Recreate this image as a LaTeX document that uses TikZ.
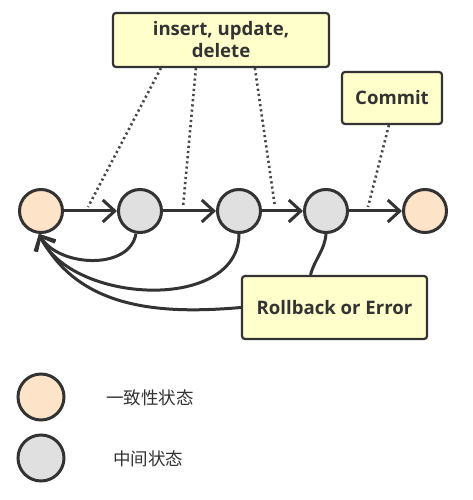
\documentclass[tikz,border=0pt]{standalone}
\usepackage{fontspec}
\setmainfont{Open Sans}
\newfontfamily\cjkfont{Noto Sans CJK SC}
\usetikzlibrary{arrows.meta}
\definecolor{ink}{HTML}{333333}
\definecolor{peach}{HTML}{FDE3C8}
\definecolor{midgray}{HTML}{E0E0E0}
\definecolor{notefill}{HTML}{FFFFCC}
\begin{document}
\begin{tikzpicture}[x=1pt,y=1pt]
\tikzstyle{state}=[draw=ink,shape=circle,line width=3pt,minimum size=43pt,inner sep=0pt]
\tikzstyle{stable}=[state,fill=peach]
\tikzstyle{middle}=[state,fill=midgray]
\tikzstyle{note}=[draw=ink,fill=notefill,line width=2.2pt,rounded corners=3pt,inner sep=0pt,font=\bfseries\fontsize{18.6}{22}\selectfont,text=ink,align=center]
\tikzstyle{fwd}=[draw=ink,line width=3pt,-{Straight Barb[length=12pt,width=22pt]}]
\tikzstyle{back}=[draw=ink,line width=3pt,-{Straight Barb[length=12pt,width=22pt]}]
\tikzstyle{hint}=[draw=ink!90,line width=2.6pt,dash pattern=on 2.2pt off 3pt]
\tikzstyle{legend}=[text=ink,font=\cjkfont\fontsize{17.5}{20}\selectfont]
\useasboundingbox (0,0) rectangle (473,500);
% states
\node[stable] at (41,289) (s0) {};
\node[middle] at (140,289) (s1) {};
\node[middle] at (239,289) (s2) {};
\node[middle] at (326,289) (s3) {};
\node[stable] at (425,289) (s4) {};
% notes
\node[note,minimum width=216pt,minimum height=54pt] at (221,460) (ops) {insert, update,\\delete};
\node[note,minimum width=100pt,minimum height=52pt] at (392,402) (commit) {Commit};
\node[note,minimum width=185pt,minimum height=63pt] at (334.5,192.5) (rollback) {Rollback or Error};
% forward steps
\draw[fwd] (s0) -- (s1);
\draw[fwd] (s1) -- (s2);
\draw[fwd] (s2) -- (s3);
\draw[fwd] (s3) -- (s4);
% dotted hints
\coordinate (h1) at (88,293);
\coordinate (h2) at (183,293);
\coordinate (h3) at (275,293);
\coordinate (h4) at (368,293);
\draw[hint] ([xshift=49pt]ops.south west) -- (h1);
\draw[hint] ([xshift=84pt]ops.south west) -- (h2);
\draw[hint] ([xshift=143pt]ops.south west) -- (h3);
\draw[hint] ([xshift=48pt]commit.south west) -- (h4);
% rollback paths
\draw[back] (s1.260) to[out=-100,in=-60] (s0.-95);
\draw[back] (s2.south) to[out=-90,in=-65] (s0.-95);
\draw[draw=ink,line width=3pt] (s3.south) to[out=-95,in=75] ([xshift=-24pt]rollback.north);
\draw[back] (rollback.west) to[out=-175,in=-62] (s0.-95);
% legend
\node[stable,minimum size=46pt] at (41,103) (k0) {};
\node[middle,minimum size=46pt] at (41,42) (k1) {};
\node[legend] at (150,102) (t0) {一致性状态};
\node[legend] at (148,41) (t1) {中间状态};
\end{tikzpicture}
\end{document}
